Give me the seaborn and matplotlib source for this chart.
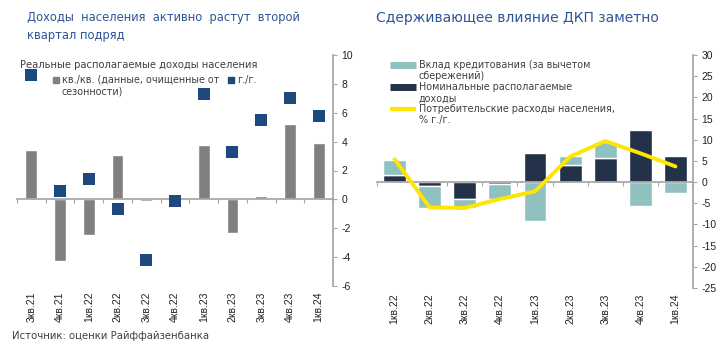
import numpy as np
import pandas as pd
import matplotlib
matplotlib.use("Agg")
import matplotlib.pyplot as plt
from matplotlib.lines import Line2D
from matplotlib.legend_handler import HandlerLine2D
import seaborn as sns

# ---------------- data ----------------
left_quarters = ["3кв.21", "4кв.21", "1кв.22", "2кв.22", "3кв.22", "4кв.22",
                 "1кв.23", "2кв.23", "3кв.23", "4кв.23", "1кв.24"]
real_income_qq = [3.4, -4.3, -2.5, 3.1, -0.1, 0.0, 3.8, -2.3, 0.2, 5.2, 3.9]
real_income_yy = [8.6, 0.6, 1.4, -0.7, -4.2, -0.1, 7.3, 3.3, 5.5, 7.0, 5.8]

right_quarters = ["1кв.22", "2кв.22", "3кв.22", "4кв.22", "1кв.23",
                  "2кв.23", "3кв.23", "4кв.23", "1кв.24"]
nominal_income = [1.6, -0.9, -4.1, -0.5, 6.9, 4.1, 5.8, 12.2, 6.1]
credit_contrib = [3.5, -5.1, -2.1, -3.6, -9.1, 2.0, 3.7, -5.6, -2.5]
consumption_yy = [5.4, -6.0, -6.1, -4.0, -2.2, 6.0, 9.7, 6.8, 3.7]

left_yticks = [-6, -4, -2, 0, 2, 4, 6, 8, 10]
right_yticks = [-25, -20, -15, -10, -5, 0, 5, 10, 15, 20, 25, 30]

# ---------------- style ----------------
sns.set_theme(style="white")
plt.rcParams["font.family"] = ["DejaVu Sans"]
TICK_FONT = ["Liberation Sans", "DejaVu Sans"]
GRAY = "#808080"
BLUE = "#1F497D"
NAVY = "#243249"
TEAL = "#8FC1C0"
YELLOW = "#FFE500"
AXC = "#A6A6A6"
TITLEC = "#2F5597"
TXT = "#404040"

W, H = 728, 351
fig = plt.figure(figsize=(W / 100, H / 100), dpi=100)


class TopLineHandler(HandlerLine2D):
    """Place the legend handle next to the first text line."""
    def create_artists(self, legend, orig_handle, xdescent, ydescent,
                       width, height, fontsize, trans):
        arts = super().create_artists(legend, orig_handle, xdescent, ydescent,
                                      width, height, fontsize, trans)
        for a in arts:
            a.set_ydata(np.asarray(a.get_ydata()) + 0.62 * fontsize)
        return arts


def box(x0, x1, ytop, ybot):
    return [x0 / W, 1 - ybot / H, (x1 - x0) / W, (ybot - ytop) / H]


def style_axis(ax, n, labels, ylim, yticks):
    ax.set_xlim(-0.5, n - 0.5)
    ax.set_ylim(*ylim)
    for s in ["top", "left"]:
        ax.spines[s].set_visible(False)
    ax.spines["right"].set_color(AXC)
    ax.spines["bottom"].set_color(AXC)
    ax.spines["bottom"].set_position(("data", 0))
    ax.yaxis.tick_right()
    ax.set_yticks(yticks)
    ax.set_yticklabels([str(v) for v in yticks], family=TICK_FONT)
    ax.tick_params(axis="y", which="both", right=True, left=False, length=3,
                   width=0.8, color=AXC, labelsize=7.5, pad=3, labelcolor="#222222")
    ax.set_xticks(np.arange(n + 1) - 0.5)
    ax.set_xticklabels([])
    ax.tick_params(axis="x", bottom=True, length=3, width=0.8, color=AXC, direction="out")
    sec = ax.secondary_xaxis("bottom")
    sec.set_xticks(np.arange(n))
    sec.set_xticklabels(labels, rotation=90, family=TICK_FONT, fontsize=7.5, color="#222222")
    sec.tick_params(length=0, pad=4)
    sec.spines["bottom"].set_visible(False)
    ax.set_xlabel("")
    ax.set_ylabel("")
    ax.grid(False)


# ---------------- left chart ----------------
axL = fig.add_axes(box(17, 333, 55, 286))
sns.barplot(x=left_quarters, y=real_income_qq, order=left_quarters, color=GRAY,
            saturation=1, width=0.41, ax=axL, zorder=2)
sns.scatterplot(x=np.arange(len(left_quarters)), y=real_income_yy, marker="s",
                s=70, color=BLUE, edgecolor=BLUE, linewidth=0, ax=axL, zorder=3)
style_axis(axL, len(left_quarters), left_quarters, (-6, 10), left_yticks)

fig.text(27 / W, 1 - 11 / H, "Доходы  населения  активно  растут  второй\nквартал подряд",
         fontsize=8.3, color=TITLEC, va="top", ha="left", linespacing=1.45)
fig.text(20 / W, 1 - 65 / H, "Реальные располагаемые доходы населения",
         fontsize=7.2, color=TXT, va="center", ha="left")
hL = [Line2D([], [], marker="s", linestyle="none", markersize=4.5, color=GRAY),
      Line2D([], [], marker="s", linestyle="none", markersize=4.5, color=BLUE)]
fig.legend(hL, ["кв./кв. (данные, очищенные от\nсезонности)", "г./г.\n "],
           loc="upper left", bbox_to_anchor=(44 / W, 1 - 66 / H), ncol=2,
           frameon=False, fontsize=6.9, handlelength=0.7,
           handletextpad=0.25, columnspacing=0.9, labelcolor=TXT,
           handler_map={Line2D: TopLineHandler()})

# ---------------- right chart ----------------
axR = fig.add_axes(box(377, 693, 55, 288))
n = len(right_quarters)
sns.barplot(x=right_quarters, y=nominal_income, order=right_quarters, color=NAVY,
            saturation=1, width=0.65, ax=axR, zorder=2)
nom = np.array(nominal_income)
cred = np.array(credit_contrib)
bottoms = np.where(np.sign(nom) == np.sign(cred), nom, 0.0)
axR.bar(np.arange(n), cred, bottom=bottoms, width=0.65, color=TEAL, zorder=2)
sns.lineplot(x=np.arange(n), y=consumption_yy, color=YELLOW, linewidth=2.8,
             ax=axR, zorder=4)
style_axis(axR, n, right_quarters, (-25, 30), right_yticks)

fig.text(376 / W, 1 - 18 / H, "Сдерживающее влияние ДКП заметно",
         fontsize=10, color=TITLEC, va="center", ha="left")

hR = [Line2D([], [], color=TEAL, lw=5, solid_capstyle="butt"),
      Line2D([], [], color=NAVY, lw=5, solid_capstyle="butt"),
      Line2D([], [], color=YELLOW, lw=3, solid_capstyle="butt")]
fig.legend(hR, ["Вклад кредитования (за вычетом\nсбережений)",
                "Номинальные располагаемые\nдоходы",
                "Потребительские расходы населения,\n% г./г."],
           loc="upper left", bbox_to_anchor=(381 / W, 1 - 51 / H), frameon=False,
           fontsize=6.9, handlelength=2.8, handletextpad=0.25, labelspacing=0.05,
           labelcolor=TXT, handler_map={Line2D: TopLineHandler()})

fig.text(12 / W, 1 - 336 / H, "Источник: оценки Райффайзенбанка",
         fontsize=7.3, color=TXT, va="center", ha="left")

fig.savefig("out.png", dpi=100)
